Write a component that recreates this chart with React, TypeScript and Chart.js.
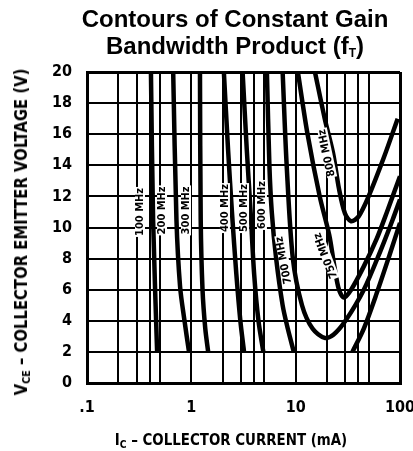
import React, { useEffect, useRef } from "react";
import { Chart, registerables } from "chart.js";
Chart.register(...registerables);

// ---- axis ticks ----
const xTickValues = [0.1, 0.2, 0.3, 0.4, 0.5, 1, 2, 3, 4, 5, 10, 20, 30, 40, 50, 100];
const xTickShown = [0.1, 1, 10, 100];
const xTickText = [".1", "1", "10", "100"];
const yTickValues = [0, 2, 4, 6, 8, 10, 12, 14, 16, 18, 20];

// ---- contour data (Ic in mA, Vce in V) ----
const ic100 = [0.41, 0.43, 0.47];
const vce100 = [20, 10.5, 2];
const ic200 = [0.67, 0.72, 0.78, 0.86, 0.95];
const vce200 = [20, 10.5, 6.2, 4, 2];
const ic300 = [1.21, 1.23, 1.28, 1.36, 1.45];
const vce300 = [20, 10.5, 6, 3.5, 2];
const ic400 = [2.05, 2.25, 2.45, 2.7, 2.95, 3.2];
const vce400 = [20, 15, 11, 7, 4, 2];
const ic500 = [3.1, 3.4, 3.7, 4.0, 4.4, 4.9];
const vce500 = [20, 15, 11, 7, 4, 2];
const ic600 = [5.3, 5.6, 5.9, 6.5, 7.5, 8.4, 9.6];
const vce600 = [20, 14, 11, 8, 5, 3.5, 2];
const ic600b = [35, 45, 60, 80, 100];
const vce600b = [2, 3.5, 5.8, 8.3, 10.3];
const ic700 = [7.5, 8.2, 9.4, 11.5, 14.5, 19, 23, 30, 45, 65, 85, 100];
const vce700 = [20, 14, 8, 5, 3.5, 2.9, 3.1, 4, 6, 8.5, 10.5, 11.8];
const ic750 = [10.5, 13, 17, 21, 23.5, 26, 29, 34, 45, 60, 75, 100];
const vce750 = [20, 16, 12, 9.5, 7.5, 6, 5.5, 6.0, 7.5, 9.3, 11, 13.3];
const ic800 = [15.3, 19, 22.8, 26, 29.7, 34, 40, 50, 70, 95];
const vce800 = [20, 17, 14.8, 12.5, 10.9, 10.4, 10.7, 12, 14.5, 17];

// ---- curve labels ----
const labelText = ["100 MHz", "200 MHz", "300 MHz", "400 MHz", "500 MHz", "600 MHz", "700 MHz", "750 MHz", "800 MHz"];
const labelIc = [0.322, 0.524, 0.889, 2.1, 3.2, 4.75, 7.72, 19.5, 20];
const labelVce = [11.0, 11.1, 11.1, 11.25, 11.25, 11.45, 7.9, 8.2, 14.8];
const labelAngle = [-90, -90, -90, -90, -90, -90, -101, -111, -102];

const series: [number[], number[]][] = [
  [ic100, vce100],
  [ic200, vce200],
  [ic300, vce300],
  [ic400, vce400],
  [ic500, vce500],
  [ic600, vce600],
  [ic600b, vce600b],
  [ic700, vce700],
  [ic750, vce750],
  [ic800, vce800],
];

const NARROW = "'Liberation Sans Narrow', 'DejaVu Sans Condensed', 'Arial Narrow', sans-serif";

const labelPlugin = {
  id: "curveLabels",
  afterDatasetsDraw(chart: any) {
    const { ctx, scales } = chart;
    const xs = scales.x;
    const ys = scales.y;
    ctx.save();
    ctx.font = `bold 11px ${NARROW}`;
    ctx.textAlign = "center";
    ctx.textBaseline = "middle";
    labelText.forEach((t, i) => {
      const px = xs.getPixelForValue(labelIc[i]);
      const py = ys.getPixelForValue(labelVce[i]);
      ctx.save();
      ctx.translate(px, py);
      ctx.rotate((labelAngle[i] * Math.PI) / 180);
      const w = ctx.measureText(t).width;
      ctx.fillStyle = "#fff";
      ctx.fillRect(-w / 2 - 1, -5, w + 2, 10);
      ctx.fillStyle = "#000";
      ctx.fillText(t, 0, 0);
      ctx.restore();
    });
    ctx.restore();
  },
};

export default function App() {
  const ref = useRef<HTMLCanvasElement | null>(null);
  useEffect(() => {
    if (!ref.current) return;
    const chart = new Chart(ref.current, {
      type: "line",
      data: {
        datasets: series.map(([xs, ys]) => ({
          data: xs.map((v, i) => ({ x: v, y: ys[i] })),
          borderColor: "#000",
          borderWidth: 4.5,
          pointRadius: 0,
          tension: 0.3,
          fill: false,
        })),
      },
      options: {
        animation: false,
        responsive: false,
        devicePixelRatio: 1,
        layout: { padding: { left: 0, top: 72, right: 13, bottom: 0 } },
        plugins: { legend: { display: false }, tooltip: { enabled: false }, title: { display: false } },
        scales: {
          x: {
            type: "logarithmic",
            min: 0.1,
            max: 100,
            afterBuildTicks: (s: any) => {
              s.ticks = xTickValues.map((v) => ({ value: v }));
            },
            afterFit: (s: any) => {
              s.height = 68;
              s.paddingLeft = 0;
              s.paddingRight = 0;
            },
            ticks: {
              autoSkip: false,
              maxRotation: 0,
              padding: 15,
              color: "#000",
              font: { family: NARROW, size: 16, weight: "bold" },
              callback: (v: any) => {
                const k = xTickShown.indexOf(Number(v));
                return k >= 0 ? xTickText[k] : "";
              },
            },
            grid: {
              color: "#000",
              lineWidth: (c: any) => (c.index === 0 || c.index === xTickValues.length - 1 ? 3 : 2),
              drawTicks: false,
            },
            border: { color: "#000", width: 3 },
          },
          y: {
            type: "linear",
            min: 0,
            max: 20,
            afterBuildTicks: (s: any) => {
              s.ticks = yTickValues.map((v) => ({ value: v }));
            },
            afterFit: (s: any) => {
              s.width = 87;
              s.paddingTop = 0;
              s.paddingBottom = 0;
            },
            ticks: {
              padding: 15,
              color: "#000",
              font: { family: NARROW, size: 16, weight: "bold" },
            },
            grid: {
              color: "#000",
              lineWidth: (c: any) => (c.index === 0 || c.index === yTickValues.length - 1 ? 3 : 2),
              drawTicks: false,
            },
            border: { color: "#000", width: 3 },
          },
        },
      },
      plugins: [labelPlugin],
    });
    return () => chart.destroy();
  }, []);

  return (
    <div style={{ position: "fixed", left: 0, top: 0, width: 413, height: 451, background: "#fff", overflow: "hidden" }}>
      <canvas ref={ref} width={413} height={451} style={{ position: "absolute", left: 0, top: 0, width: 413, height: 451 }} />
      <div
        style={{
          position: "absolute",
          left: 35,
          top: 5,
          width: 400,
          textAlign: "center",
          fontFamily: "'Liberation Sans', Arial, sans-serif",
          fontWeight: "bold",
          fontSize: 24,
          lineHeight: "27px",
          color: "#000",
        }}
      >
        <div>Contours of Constant Gain</div>
        <div>
          Bandwidth Product (f<sub style={{ fontSize: 12, verticalAlign: "-3px" }}>T</sub>)
        </div>
      </div>
      <div
        style={{
          position: "absolute",
          left: 231,
          top: 440,
          transform: "translate(-50%, -50%) scaleX(0.93)",
          whiteSpace: "nowrap",
          fontFamily: NARROW,
          fontWeight: "bold",
          fontSize: 16,
          color: "#000",
        }}
      >
        I<sub style={{ fontSize: 11, verticalAlign: "-3px" }}>C</sub> – COLLECTOR CURRENT (mA)
      </div>
      <div
        style={{
          position: "absolute",
          left: 22,
          top: 232,
          transform: "translate(-50%, -50%) rotate(-90deg) scaleX(0.97)",
          whiteSpace: "nowrap",
          fontFamily: NARROW,
          fontWeight: "bold",
          fontSize: 17,
          color: "#000",
        }}
      >
        V<sub style={{ fontSize: 11, verticalAlign: "-3px" }}>CE</sub> – COLLECTOR EMITTER VOLTAGE (V)
      </div>
    </div>
  );
}
